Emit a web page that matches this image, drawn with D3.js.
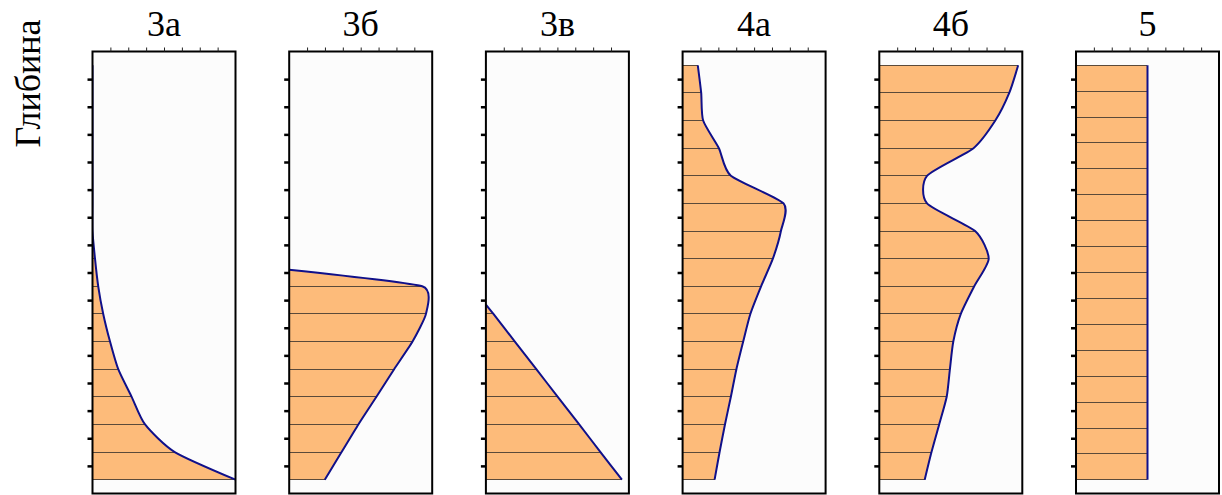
<!DOCTYPE html>
<html><head><meta charset="utf-8">
<script src="https://cdn.jsdelivr.net/npm/d3@7"></script>
<style>
html,body{margin:0;padding:0;background:#fff;}
svg{display:block;}
</style></head>
<body>
<svg id="chart" width="1222" height="495"></svg>
<script>
// ---- data ----
const panelNames = ["3а", "3б", "3в", "4а", "4б", "5"];
const depthTicks = [1,2,3,4,5,6,7,8,9,10,11,12,13,14,15];
const valueTicks = [1,2,3,4,5,6,7];
const yLabel = "Глибина";

const depthsStd = [0.5,1.5,2.5,3.5,4.5,5.5,6.5,7.5,8.5,9.5,10.5,11.5,12.5,13.5,14.5,15.5];

const depths3a = depthsStd;
const values3a = [0,0,0,0,0,0,0,0.14,0.32,0.6,0.98,1.44,2.19,2.94,4.6,8.0];

const depths3b = [7.9,8.5,9.5,10.5,11.5,12.5,13.5,14.5,15.5];
const values3b = [0,7.44,7.65,6.9,5.87,4.88,3.87,2.93,1.99];

const depths3v = [9.16,9.5,10.5,11.5,12.5,13.5,14.5,15.5];
const values3v = [0,0.42,1.62,2.82,4.02,5.22,6.41,7.61];

const depths4a = depthsStd;
const values4a = [0.85,1.04,1.15,2.03,2.7,5.65,5.5,5.05,4.39,3.79,3.39,3.01,2.7,2.37,2.07,1.79];

const depths4b = depthsStd;
const values4b = [7.77,7.27,6.49,5.27,2.67,2.67,5.36,6.12,5.31,4.56,4.14,3.95,3.77,3.35,2.92,2.54];

const depths5 = [0.5,1.44,2.38,3.31,4.25,5.19,6.13,7.06,8.0,8.94,9.88,10.81,11.75,12.69,13.63,14.56,15.5];
const values5 = [4,4,4,4,4,4,4,4,4,4,4,4,4,4,4,4,4];

const depthSeries = [depths3a, depths3b, depths3v, depths4a, depths4b, depths5];
const valueSeries = [values3a, values3b, values3v, values4a, values4b, values5];

// ---- style ----
const curveTension = [0.33, 0.5, 0.33, 0.33, 0.33, 0.33];

// ---- layout ----
const svg = d3.select("#chart");
const plotTop = 51.5, plotBottom = 493.5;
const fillColor = "#fdbb7a", lineColor = "#10108a", hatchColor = "#5b4a3a";

const panelScale = d3.scaleBand().domain(panelNames).range([92.5, 1219]).paddingInner(0.273).paddingOuter(0);
const y = d3.scaleLinear().domain([0, 16]).range([plotTop, plotBottom]);

svg.append("text")
  .attr("transform", `translate(40,${83.5}) rotate(-90)`)
  .attr("text-anchor", "middle")
  .attr("font-family", "'Liberation Serif', 'Times New Roman', serif")
  .attr("font-size", 36)
  .attr("fill", "#000")
  .text(yLabel);

panelNames.forEach((name, i) => {
  const left = panelScale(name);
  const w = panelScale.bandwidth();
  const x = d3.scaleLinear().domain([0, 8]).range([left, left + w]);
  const pts = depthSeries[i].map((d, k) => ({d, v: valueSeries[i][k]}));
  const curve = d3.curveCardinal.tension(curveTension[i]);
  const g = svg.append("g");

  const clipId = "clip" + i;
  svg.append("clipPath").attr("id", clipId)
    .append("rect").attr("x", left).attr("y", plotTop).attr("width", w).attr("height", plotBottom - plotTop);

  g.append("rect").attr("x", left).attr("y", plotTop).attr("width", w).attr("height", plotBottom - plotTop)
    .attr("fill", "#fcfcfc");

  const area = d3.area().y(p => y(p.d)).x0(x(0)).x1(p => x(p.v)).curve(curve);
  const line = d3.line().y(p => y(p.d)).x(p => x(p.v)).curve(curve);

  const cg = g.append("g").attr("clip-path", `url(#${clipId})`);
  cg.append("path").attr("d", area(pts)).attr("fill", fillColor);
  cg.selectAll("line.h").data(pts).join("line")
    .attr("x1", x(0)).attr("x2", p => x(p.v))
    .attr("y1", p => y(p.d)).attr("y2", p => y(p.d))
    .attr("stroke", hatchColor).attr("stroke-width", 1)
    .attr("shape-rendering", "crispEdges");

  // frame
  g.append("rect").attr("x", left).attr("y", plotTop).attr("width", w).attr("height", plotBottom - plotTop)
    .attr("fill", "none").attr("stroke", "#000").attr("stroke-width", 2);

  cg.append("path").attr("d", line(pts)).attr("fill", "none")
    .attr("stroke", lineColor).attr("stroke-width", 2).attr("stroke-linejoin", "round");

  // axes
  const ax = g.append("g").attr("transform", `translate(0,${plotTop})`)
    .call(d3.axisTop(x).tickValues(valueTicks).tickSize(4).tickFormat(""));
  ax.select(".domain").remove();
  ax.selectAll(".tick line").attr("stroke", "#222").attr("stroke-width", 1);

  const ay = g.append("g").attr("transform", `translate(${left},0)`)
    .call(d3.axisLeft(y).tickValues(depthTicks).tickSize(5).tickFormat(""));
  ay.select(".domain").remove();
  ay.selectAll(".tick line").attr("stroke", "#000").attr("stroke-width", 2.5);

  svg.append("text")
    .attr("x", left + w / 2).attr("y", 36)
    .attr("text-anchor", "middle")
    .attr("font-family", "'Liberation Serif', 'Times New Roman', serif")
    .attr("font-size", 36)
    .attr("fill", "#000")
    .text(name);
});
</script>
</body></html>
